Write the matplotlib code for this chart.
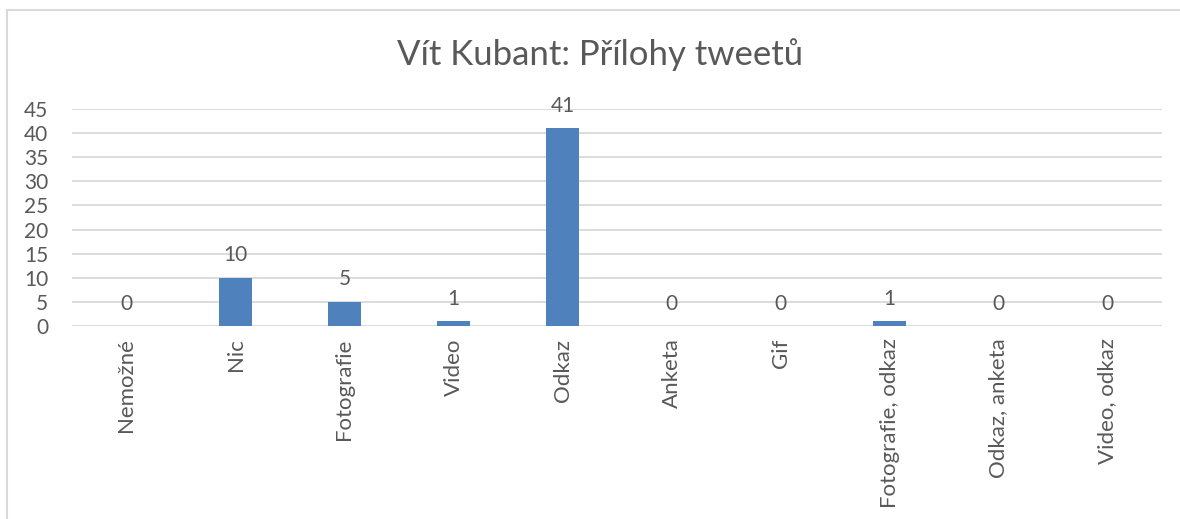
import matplotlib
matplotlib.use("Agg")
import matplotlib.pyplot as plt
from matplotlib.lines import Line2D

categories = ["Nemožné", "Nic", "Fotografie", "Video", "Odkaz", "Anketa", "Gif",
              "Fotografie, odkaz", "Odkaz, anketa", "Video, odkaz"]
values = [0, 10, 5, 1, 41, 0, 0, 1, 0, 0]
yticks = [0, 5, 10, 15, 20, 25, 30, 35, 40, 45]
title = "Vít Kubant: Přílohy tweetů"

plt.rcParams['font.family'] = ['Lato', 'DejaVu Sans']
txt = "#595959"

fig = plt.figure(figsize=(11.8, 5.19), dpi=100)
ax = fig.add_axes([72/1180, 1-326/519, (1162-72)/1180, (326-109)/519])

x = list(range(len(categories)))
bars = ax.bar(x, values, width=0.31, color="#4f81bd", zorder=3)
ax.set_xlim(-0.5, len(categories)-0.5)
ax.set_ylim(0, 45)
ax.set_yticks(yticks)
ax.set_yticklabels([str(t) for t in yticks], fontsize=15, color=txt)
ax.set_xticks(x)
ax.set_xticklabels(categories, rotation=90, fontsize=16, color=txt)
ax.tick_params(axis='both', length=0)
ax.tick_params(axis='x', pad=9)
ax.tick_params(axis='y', pad=17)
ax.yaxis.grid(True, color="#d9d9d9", linewidth=1.3, zorder=0)
ax.set_axisbelow(True)
for s in ax.spines.values():
    s.set_visible(False)
for xi, v in zip(x, values):
    ax.annotate(str(v), (xi, v), xytext=(0, 9), textcoords="offset points",
                ha="center", va="bottom", fontsize=15, color=txt)

fig.text(600/1180, 1-55/519, title, ha="center", va="center", fontsize=25, color=txt)

fig.add_artist(Line2D([7/1180, 7/1180], [0, 1-10/519], transform=fig.transFigure,
                      color="#d9d9d9", linewidth=1.5))
fig.add_artist(Line2D([7/1180, 1], [1-10/519, 1-10/519], transform=fig.transFigure,
                      color="#d9d9d9", linewidth=1.5))

fig.savefig("out.png", dpi=100)
